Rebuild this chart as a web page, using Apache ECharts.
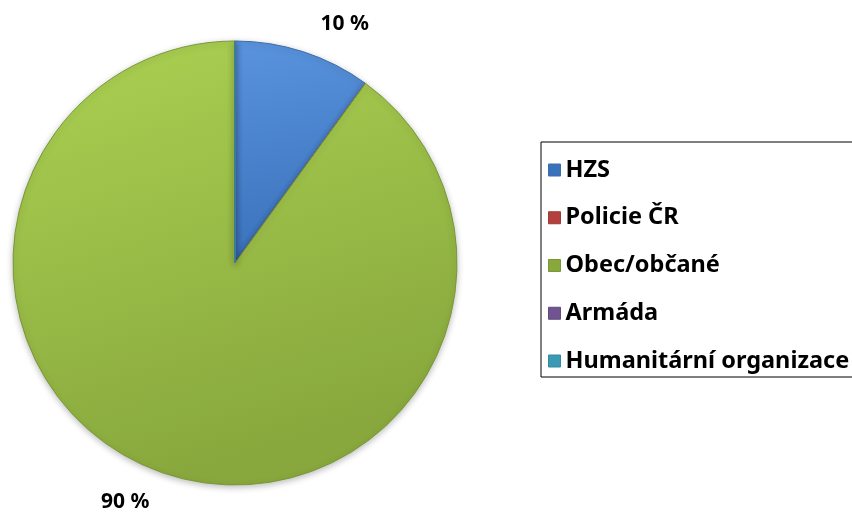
<!DOCTYPE html>
<html>
<head>
<meta charset="utf-8">
<script src="https://cdn.jsdelivr.net/npm/echarts@6/dist/echarts.min.js"></script>
<style>
  html, body { margin: 0; padding: 0; background: #fff; }
  #chart { width: 852px; height: 514px; }
</style>
</head>
<body>
<div id="chart"></div>
<script>
// kategorie a hodnoty (procenta)
const categories = ['HZS', 'Policie ČR', 'Obec/občané', 'Armáda', 'Humanitární organizace']
const values = [10, 0, 90, 0, 0]
// barvy: [horní, spodní, okraj]
const colors = [
  ['#5a94de', '#3a71bb', '#3d6ea8'],
  ['#d9605c', '#b3403d', '#9c3a37'],
  ['#abd152', '#88a83d', '#7a9837'],
  ['#9079b8', '#6f5490', '#624a80'],
  ['#5cc0da', '#3a9ab4', '#34889f']
]

const chart = echarts.init(document.getElementById('chart'))

const seriesData = categories.map((name, i) => ({
  name: name,
  value: values[i],
  itemStyle: {
    color: {
      type: 'linear', x: 0, y: 0, x2: 0.3, y2: 1,
      colorStops: [
        { offset: 0, color: colors[i][0] },
        { offset: 1, color: colors[i][1] }
      ]
    },
    borderColor: colors[i][2]
  }
}))

const option = {
  backgroundColor: '#ffffff',
  animation: false,
  legend: {
    orient: 'vertical',
    left: 541,
    top: 142,
    padding: [16, 30, 4, 7],
    borderColor: '#000',
    borderWidth: 1,
    itemGap: 23.75,
    itemWidth: 12,
    itemHeight: 12,
    icon: 'rect',
    selectedMode: false,
    textStyle: {
      fontFamily: 'Noto Sans',
      fontWeight: 'bold',
      fontSize: 23.5,
      color: '#000'
    },
    data: categories.map((c, i) => ({
      name: c,
      itemStyle: { color: colors[i][1], borderColor: colors[i][2], borderWidth: 1 }
    }))
  },
  series: [
    {
      type: 'pie',
      center: [235, 263],
      radius: 222,
      startAngle: 90,
      clockwise: true,
      avoidLabelOverlap: false,
      emphasis: { disabled: true },
      itemStyle: {
        borderWidth: 1,
        shadowColor: 'rgba(0,0,0,0.25)',
        shadowBlur: 6,
        shadowOffsetY: 2
      },
      label: {
        show: true,
        position: 'outside',
        formatter: p => (p.value > 0 ? p.value + ' %' : ''),
        fontFamily: 'Noto Sans',
        fontWeight: 'bold',
        fontSize: 21,
        color: '#000'
      },
      labelLine: { show: false, length: 29, length2: 3 },
      data: seriesData
    }
  ]
}

chart.setOption(option)
</script>
</body>
</html>
